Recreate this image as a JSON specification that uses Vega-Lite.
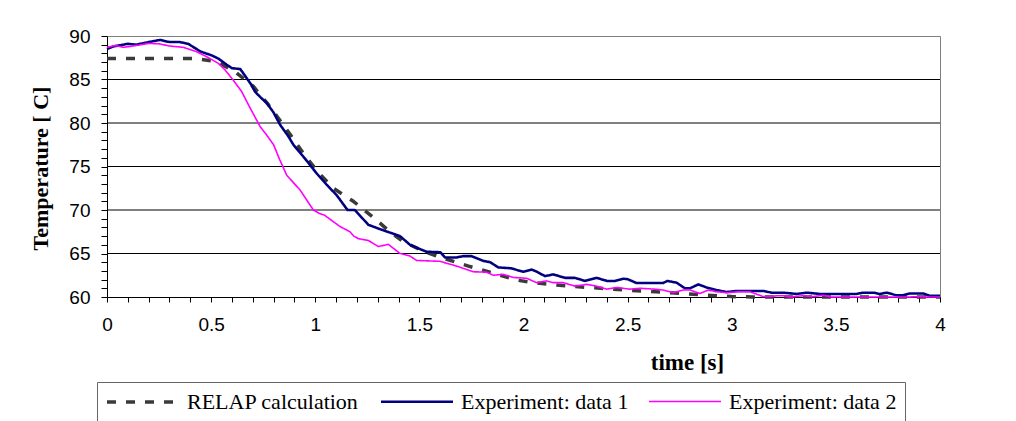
{
  "$schema": "https://vega.github.io/schema/vega-lite/v6.json",
  "width": 833,
  "height": 261,
  "autosize": {"type": "none"},
  "padding": {"left": 107, "top": 36, "right": 76, "bottom": 124},
  "background": "white",
  "config": {
    "view": {"stroke": "#808080", "strokeWidth": 1},
    "legend": {"labelFont": "Liberation Serif", "labelFontSize": 22, "labelColor": "black"}
  },
  "datasets": {
    "grid": [{"T": 65}, {"T": 70}, {"T": 75}, {"T": 80}, {"T": 85}],
    "curves": [
      {"s": "RELAP calculation", "t": 0, "T": 87.4},
      {"s": "RELAP calculation", "t": 0.43, "T": 87.4},
      {"s": "RELAP calculation", "t": 0.527, "T": 87.05},
      {"s": "RELAP calculation", "t": 0.615, "T": 85.9},
      {"s": "RELAP calculation", "t": 0.703, "T": 84.2},
      {"s": "RELAP calculation", "t": 0.775, "T": 82.1},
      {"s": "RELAP calculation", "t": 0.815, "T": 80.8},
      {"s": "RELAP calculation", "t": 0.879, "T": 78.7},
      {"s": "RELAP calculation", "t": 0.943, "T": 76.5},
      {"s": "RELAP calculation", "t": 1.015, "T": 74.3},
      {"s": "RELAP calculation", "t": 1.087, "T": 72.5},
      {"s": "RELAP calculation", "t": 1.183, "T": 71.0},
      {"s": "RELAP calculation", "t": 1.271, "T": 69.3},
      {"s": "RELAP calculation", "t": 1.359, "T": 67.5},
      {"s": "RELAP calculation", "t": 1.423, "T": 66.35},
      {"s": "RELAP calculation", "t": 1.527, "T": 65.2},
      {"s": "RELAP calculation", "t": 1.615, "T": 64.45},
      {"s": "RELAP calculation", "t": 1.743, "T": 63.5},
      {"s": "RELAP calculation", "t": 1.847, "T": 62.8},
      {"s": "RELAP calculation", "t": 1.967, "T": 61.95},
      {"s": "RELAP calculation", "t": 2.03, "T": 61.7},
      {"s": "RELAP calculation", "t": 2.14, "T": 61.4},
      {"s": "RELAP calculation", "t": 2.25, "T": 61.2},
      {"s": "RELAP calculation", "t": 2.37, "T": 61.0},
      {"s": "RELAP calculation", "t": 2.5, "T": 60.78},
      {"s": "RELAP calculation", "t": 2.635, "T": 60.6},
      {"s": "RELAP calculation", "t": 2.76, "T": 60.4},
      {"s": "RELAP calculation", "t": 2.885, "T": 60.2},
      {"s": "RELAP calculation", "t": 3.0, "T": 60.05},
      {"s": "RELAP calculation", "t": 3.1, "T": 60.0},
      {"s": "RELAP calculation", "t": 4.0, "T": 60.0},

      {"s": "Experiment: data 1", "t": 0, "T": 88.5},
      {"s": "Experiment: data 1", "t": 0.03, "T": 88.8},
      {"s": "Experiment: data 1", "t": 0.1, "T": 89.1},
      {"s": "Experiment: data 1", "t": 0.14, "T": 89.0},
      {"s": "Experiment: data 1", "t": 0.2, "T": 89.3},
      {"s": "Experiment: data 1", "t": 0.255, "T": 89.55},
      {"s": "Experiment: data 1", "t": 0.3, "T": 89.3},
      {"s": "Experiment: data 1", "t": 0.35, "T": 89.3},
      {"s": "Experiment: data 1", "t": 0.39, "T": 89.1},
      {"s": "Experiment: data 1", "t": 0.45, "T": 88.2},
      {"s": "Experiment: data 1", "t": 0.5, "T": 87.8},
      {"s": "Experiment: data 1", "t": 0.535, "T": 87.4},
      {"s": "Experiment: data 1", "t": 0.575, "T": 86.7},
      {"s": "Experiment: data 1", "t": 0.6, "T": 86.3},
      {"s": "Experiment: data 1", "t": 0.64, "T": 86.2},
      {"s": "Experiment: data 1", "t": 0.655, "T": 85.7},
      {"s": "Experiment: data 1", "t": 0.69, "T": 84.5},
      {"s": "Experiment: data 1", "t": 0.711, "T": 83.6},
      {"s": "Experiment: data 1", "t": 0.735, "T": 83.0},
      {"s": "Experiment: data 1", "t": 0.767, "T": 82.3},
      {"s": "Experiment: data 1", "t": 0.8, "T": 81.2},
      {"s": "Experiment: data 1", "t": 0.831, "T": 79.8},
      {"s": "Experiment: data 1", "t": 0.87, "T": 78.5},
      {"s": "Experiment: data 1", "t": 0.895, "T": 77.5},
      {"s": "Experiment: data 1", "t": 0.951, "T": 75.9},
      {"s": "Experiment: data 1", "t": 1.007, "T": 74.2},
      {"s": "Experiment: data 1", "t": 1.055, "T": 72.9},
      {"s": "Experiment: data 1", "t": 1.103, "T": 71.7},
      {"s": "Experiment: data 1", "t": 1.155, "T": 70.0},
      {"s": "Experiment: data 1", "t": 1.19, "T": 70.0},
      {"s": "Experiment: data 1", "t": 1.255, "T": 68.3},
      {"s": "Experiment: data 1", "t": 1.311, "T": 67.8},
      {"s": "Experiment: data 1", "t": 1.359, "T": 67.4},
      {"s": "Experiment: data 1", "t": 1.407, "T": 67.0},
      {"s": "Experiment: data 1", "t": 1.455, "T": 66.0},
      {"s": "Experiment: data 1", "t": 1.503, "T": 65.5},
      {"s": "Experiment: data 1", "t": 1.535, "T": 65.2},
      {"s": "Experiment: data 1", "t": 1.6, "T": 65.15},
      {"s": "Experiment: data 1", "t": 1.623, "T": 64.55},
      {"s": "Experiment: data 1", "t": 1.679, "T": 64.55},
      {"s": "Experiment: data 1", "t": 1.711, "T": 64.7},
      {"s": "Experiment: data 1", "t": 1.75, "T": 64.7},
      {"s": "Experiment: data 1", "t": 1.807, "T": 64.15},
      {"s": "Experiment: data 1", "t": 1.84, "T": 64.0},
      {"s": "Experiment: data 1", "t": 1.879, "T": 63.4},
      {"s": "Experiment: data 1", "t": 1.94, "T": 63.3},
      {"s": "Experiment: data 1", "t": 1.999, "T": 62.9},
      {"s": "Experiment: data 1", "t": 2.039, "T": 63.15},
      {"s": "Experiment: data 1", "t": 2.06, "T": 62.95},
      {"s": "Experiment: data 1", "t": 2.103, "T": 62.4},
      {"s": "Experiment: data 1", "t": 2.143, "T": 62.6},
      {"s": "Experiment: data 1", "t": 2.199, "T": 62.2},
      {"s": "Experiment: data 1", "t": 2.247, "T": 62.2},
      {"s": "Experiment: data 1", "t": 2.295, "T": 61.85},
      {"s": "Experiment: data 1", "t": 2.351, "T": 62.2},
      {"s": "Experiment: data 1", "t": 2.4, "T": 61.85},
      {"s": "Experiment: data 1", "t": 2.44, "T": 61.85},
      {"s": "Experiment: data 1", "t": 2.479, "T": 62.1},
      {"s": "Experiment: data 1", "t": 2.5, "T": 62.05},
      {"s": "Experiment: data 1", "t": 2.543, "T": 61.6},
      {"s": "Experiment: data 1", "t": 2.671, "T": 61.6},
      {"s": "Experiment: data 1", "t": 2.69, "T": 61.85},
      {"s": "Experiment: data 1", "t": 2.735, "T": 61.65},
      {"s": "Experiment: data 1", "t": 2.775, "T": 61.0},
      {"s": "Experiment: data 1", "t": 2.8, "T": 61.0},
      {"s": "Experiment: data 1", "t": 2.839, "T": 61.45},
      {"s": "Experiment: data 1", "t": 2.879, "T": 61.1},
      {"s": "Experiment: data 1", "t": 2.927, "T": 60.8},
      {"s": "Experiment: data 1", "t": 2.975, "T": 60.57},
      {"s": "Experiment: data 1", "t": 3.023, "T": 60.7},
      {"s": "Experiment: data 1", "t": 3.151, "T": 60.7},
      {"s": "Experiment: data 1", "t": 3.19, "T": 60.5},
      {"s": "Experiment: data 1", "t": 3.247, "T": 60.5},
      {"s": "Experiment: data 1", "t": 3.311, "T": 60.35},
      {"s": "Experiment: data 1", "t": 3.36, "T": 60.5},
      {"s": "Experiment: data 1", "t": 3.424, "T": 60.35},
      {"s": "Experiment: data 1", "t": 3.6, "T": 60.35},
      {"s": "Experiment: data 1", "t": 3.63, "T": 60.5},
      {"s": "Experiment: data 1", "t": 3.68, "T": 60.5},
      {"s": "Experiment: data 1", "t": 3.71, "T": 60.35},
      {"s": "Experiment: data 1", "t": 3.744, "T": 60.5},
      {"s": "Experiment: data 1", "t": 3.79, "T": 60.2},
      {"s": "Experiment: data 1", "t": 3.82, "T": 60.2},
      {"s": "Experiment: data 1", "t": 3.856, "T": 60.4},
      {"s": "Experiment: data 1", "t": 3.92, "T": 60.4},
      {"s": "Experiment: data 1", "t": 3.95, "T": 60.15},
      {"s": "Experiment: data 1", "t": 4.0, "T": 60.15},

      {"s": "Experiment: data 2", "t": 0, "T": 88.7},
      {"s": "Experiment: data 2", "t": 0.04, "T": 88.9},
      {"s": "Experiment: data 2", "t": 0.08, "T": 88.7},
      {"s": "Experiment: data 2", "t": 0.14, "T": 88.9},
      {"s": "Experiment: data 2", "t": 0.2, "T": 89.15},
      {"s": "Experiment: data 2", "t": 0.25, "T": 89.1},
      {"s": "Experiment: data 2", "t": 0.3, "T": 88.85},
      {"s": "Experiment: data 2", "t": 0.366, "T": 88.7},
      {"s": "Experiment: data 2", "t": 0.43, "T": 88.2},
      {"s": "Experiment: data 2", "t": 0.48, "T": 87.6},
      {"s": "Experiment: data 2", "t": 0.535, "T": 86.85},
      {"s": "Experiment: data 2", "t": 0.567, "T": 86.1},
      {"s": "Experiment: data 2", "t": 0.607, "T": 84.9},
      {"s": "Experiment: data 2", "t": 0.647, "T": 83.6},
      {"s": "Experiment: data 2", "t": 0.679, "T": 82.1},
      {"s": "Experiment: data 2", "t": 0.735, "T": 79.6},
      {"s": "Experiment: data 2", "t": 0.767, "T": 78.6},
      {"s": "Experiment: data 2", "t": 0.8, "T": 77.5},
      {"s": "Experiment: data 2", "t": 0.83, "T": 75.75},
      {"s": "Experiment: data 2", "t": 0.863, "T": 74.0},
      {"s": "Experiment: data 2", "t": 0.927, "T": 72.3},
      {"s": "Experiment: data 2", "t": 0.991, "T": 70.0},
      {"s": "Experiment: data 2", "t": 1.02, "T": 69.6},
      {"s": "Experiment: data 2", "t": 1.045, "T": 69.4},
      {"s": "Experiment: data 2", "t": 1.087, "T": 68.65},
      {"s": "Experiment: data 2", "t": 1.119, "T": 68.1},
      {"s": "Experiment: data 2", "t": 1.167, "T": 67.5},
      {"s": "Experiment: data 2", "t": 1.185, "T": 67.0},
      {"s": "Experiment: data 2", "t": 1.207, "T": 66.7},
      {"s": "Experiment: data 2", "t": 1.255, "T": 66.5},
      {"s": "Experiment: data 2", "t": 1.303, "T": 65.8},
      {"s": "Experiment: data 2", "t": 1.351, "T": 66.05},
      {"s": "Experiment: data 2", "t": 1.407, "T": 65.0},
      {"s": "Experiment: data 2", "t": 1.455, "T": 64.7},
      {"s": "Experiment: data 2", "t": 1.487, "T": 64.2},
      {"s": "Experiment: data 2", "t": 1.599, "T": 64.1},
      {"s": "Experiment: data 2", "t": 1.679, "T": 63.55},
      {"s": "Experiment: data 2", "t": 1.759, "T": 62.9},
      {"s": "Experiment: data 2", "t": 1.823, "T": 62.85},
      {"s": "Experiment: data 2", "t": 1.855, "T": 62.5},
      {"s": "Experiment: data 2", "t": 1.903, "T": 62.6},
      {"s": "Experiment: data 2", "t": 1.951, "T": 62.25},
      {"s": "Experiment: data 2", "t": 2.015, "T": 62.15},
      {"s": "Experiment: data 2", "t": 2.063, "T": 61.65},
      {"s": "Experiment: data 2", "t": 2.111, "T": 61.85},
      {"s": "Experiment: data 2", "t": 2.143, "T": 61.65},
      {"s": "Experiment: data 2", "t": 2.191, "T": 61.65},
      {"s": "Experiment: data 2", "t": 2.247, "T": 61.25},
      {"s": "Experiment: data 2", "t": 2.303, "T": 61.45},
      {"s": "Experiment: data 2", "t": 2.351, "T": 61.25},
      {"s": "Experiment: data 2", "t": 2.399, "T": 60.9},
      {"s": "Experiment: data 2", "t": 2.447, "T": 61.1},
      {"s": "Experiment: data 2", "t": 2.51, "T": 60.9},
      {"s": "Experiment: data 2", "t": 2.56, "T": 61.0},
      {"s": "Experiment: data 2", "t": 2.631, "T": 60.9},
      {"s": "Experiment: data 2", "t": 2.67, "T": 60.8},
      {"s": "Experiment: data 2", "t": 2.719, "T": 60.5},
      {"s": "Experiment: data 2", "t": 2.767, "T": 60.8},
      {"s": "Experiment: data 2", "t": 2.8, "T": 60.8},
      {"s": "Experiment: data 2", "t": 2.847, "T": 60.4},
      {"s": "Experiment: data 2", "t": 2.887, "T": 60.8},
      {"s": "Experiment: data 2", "t": 2.927, "T": 60.6},
      {"s": "Experiment: data 2", "t": 2.975, "T": 60.5},
      {"s": "Experiment: data 2", "t": 3.031, "T": 60.6},
      {"s": "Experiment: data 2", "t": 3.087, "T": 60.6},
      {"s": "Experiment: data 2", "t": 3.151, "T": 60.05},
      {"s": "Experiment: data 2", "t": 3.19, "T": 60.05},
      {"s": "Experiment: data 2", "t": 3.216, "T": 60.15},
      {"s": "Experiment: data 2", "t": 3.25, "T": 60.15},
      {"s": "Experiment: data 2", "t": 3.28, "T": 60.0},
      {"s": "Experiment: data 2", "t": 3.343, "T": 60.15},
      {"s": "Experiment: data 2", "t": 3.39, "T": 60.05},
      {"s": "Experiment: data 2", "t": 3.44, "T": 60.2},
      {"s": "Experiment: data 2", "t": 3.48, "T": 60.0},
      {"s": "Experiment: data 2", "t": 3.85, "T": 60.0},
      {"s": "Experiment: data 2", "t": 3.9, "T": 60.05},
      {"s": "Experiment: data 2", "t": 3.94, "T": 60.0},
      {"s": "Experiment: data 2", "t": 4.0, "T": 60.0}
    ]
  },
  "encoding": {
    "y": {
      "field": "T",
      "type": "quantitative",
      "scale": {"domain": [60, 90], "nice": false, "zero": false},
      "axis": {
        "values": [60,61,62,63,64,65,66,67,68,69,70,71,72,73,74,75,76,77,78,79,80,81,82,83,84,85,86,87,88,89,90],
        "format": "~g",
        "labelExpr": "datum.value % 5 == 0 ? datum.label : ''",
        "labelOverlap": false,
        "labelFlush": false,
        "labelFont": "Liberation Sans",
        "labelFontSize": 19,
        "labelColor": "black",
        "labelPadding": 11,
        "tickSize": 6,
        "tickColor": "black",
        "domainColor": "black",
        "grid": false,
        "title": "Temperature [ C]",
        "titleFont": "Liberation Serif",
        "titleFontWeight": "bold",
        "titleFontSize": 22,
        "titleColor": "black",
        "titleX": -67,
        "titleY": 132,
        "titleAngle": -90,
        "titleAlign": "center",
        "titleBaseline": "middle"
      }
    }
  },
  "layer": [
    {
      "data": {"name": "grid"},
      "mark": {"type": "rule", "color": "black", "strokeWidth": 1},
      "encoding": {}
    },
    {
      "data": {"name": "curves"},
      "mark": {"type": "line", "strokeCap": "butt", "strokeJoin": "round"},
      "encoding": {
        "x": {
          "field": "t",
          "type": "quantitative",
          "scale": {"domain": [0, 4], "nice": false},
          "axis": {
            "values": [0,0.1,0.2,0.3,0.4,0.5,0.6,0.7,0.8,0.9,1,1.1,1.2,1.3,1.4,1.5,1.6,1.7,1.8,1.9,2,2.1,2.2,2.3,2.4,2.5,2.6,2.7,2.8,2.9,3,3.1,3.2,3.3,3.4,3.5,3.6,3.7,3.8,3.9,4],
            "format": "~g",
            "labelExpr": "abs(datum.value * 2 - round(datum.value * 2)) < 0.001 ? datum.label : ''",
            "labelOverlap": false,
            "labelFlush": false,
            "labelFont": "Liberation Sans",
            "labelFontSize": 19,
            "labelColor": "black",
            "labelPadding": 13,
            "tickSize": 5,
            "tickColor": "black",
            "domainColor": "black",
            "grid": false,
            "title": "time [s]",
            "titleFont": "Liberation Serif",
            "titleFontWeight": "bold",
            "titleFontSize": 23,
            "titleColor": "black",
            "titleX": 580,
            "titleY": 65,
            "titleAlign": "center",
            "titleBaseline": "middle"
          }
        },
        "color": {
          "field": "s",
          "type": "nominal",
          "scale": {
            "domain": ["RELAP calculation", "Experiment: data 1", "Experiment: data 2"],
            "range": ["#3a3a3a", "#000080", "#ff00ff"]
          },
          "legend": {
            "orient": "none",
            "legendX": -10,
            "legendY": 346,
            "direction": "horizontal",
            "columns": 3,
            "title": null,
            "symbolType": "M-1,0H6.2",
            "symbolSize": 400,
            "labelFont": "Liberation Serif",
            "labelFontSize": 22,
            "labelColor": "black",
            "labelLimit": 400,
            "labelOffset": 58,
            "columnPadding": 16,
            "padding": 8,
            "strokeColor": "#666666",
            "fillColor": "white",
            "encode": {
              "labels": {"update": {"font": {"value": "Liberation Serif"}, "fontSize": {"value": 22}}}
            }
          }
        },
        "strokeDash": {
          "field": "s",
          "type": "nominal",
          "scale": {
            "domain": ["RELAP calculation", "Experiment: data 1", "Experiment: data 2"],
            "range": [[9, 10], [1, 0], [1, 0]]
          }
        },
        "strokeWidth": {
          "field": "s",
          "type": "nominal",
          "scale": {
            "domain": ["RELAP calculation", "Experiment: data 1", "Experiment: data 2"],
            "range": [3.5, 1.6, 1.6]
          }
        }
      }
    }
  ]
}
